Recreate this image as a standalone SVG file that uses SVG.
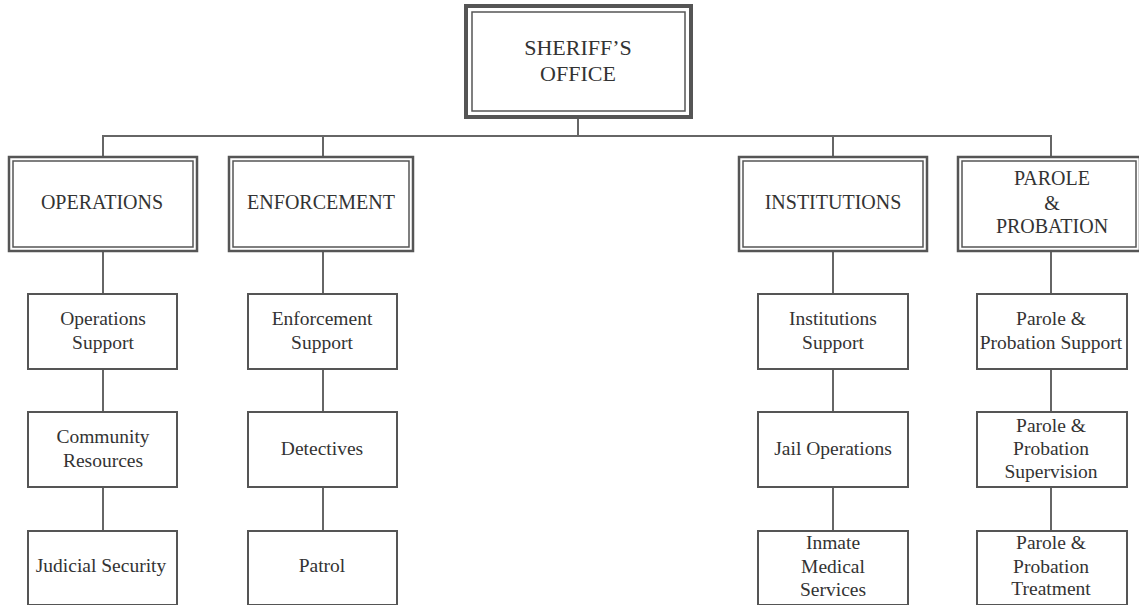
<svg xmlns="http://www.w3.org/2000/svg" width="1139" height="605" viewBox="0 0 1139 605">
<style>
.bg{fill:#fff}
.out{fill:#fff;stroke:#555;stroke-width:2.5}
.in{fill:none;stroke:#555;stroke-width:1.5}
.sub{fill:#fff;stroke:#555;stroke-width:2}
.conn line{stroke:#666;stroke-width:2}
text{font-family:"Liberation Serif","Times New Roman",serif;fill:#333;text-anchor:middle}
.t1{font-size:22px}
.t2{font-size:20px}
.t3{font-size:19.5px}
</style>
<rect class="bg" x="0" y="0" width="1139" height="605"/>
<g id="connectors" class="conn">
<line x1="578" y1="118" x2="578" y2="136"/>
<line x1="103" y1="136" x2="1051" y2="136"/>
<line x1="103" y1="135" x2="103" y2="156"/>
<line x1="323" y1="135" x2="323" y2="156"/>
<line x1="833" y1="135" x2="833" y2="156"/>
<line x1="1051" y1="135" x2="1051" y2="156"/>
<line x1="103" y1="251" x2="103" y2="294"/>
<line x1="103" y1="369" x2="103" y2="412"/>
<line x1="103" y1="487" x2="103" y2="531"/>
<line x1="323" y1="251" x2="323" y2="294"/>
<line x1="323" y1="369" x2="323" y2="412"/>
<line x1="323" y1="487" x2="323" y2="531"/>
<line x1="833" y1="251" x2="833" y2="294"/>
<line x1="833" y1="369" x2="833" y2="412"/>
<line x1="833" y1="487" x2="833" y2="531"/>
<line x1="1051" y1="251" x2="1051" y2="294"/>
<line x1="1051" y1="369" x2="1051" y2="412"/>
<line x1="1051" y1="487" x2="1051" y2="531"/>
</g>
<g id="sheriff">
<rect x="466" y="6" width="225" height="111" fill="#fff" stroke="#555" stroke-width="4"/>
<rect x="472" y="12" width="213" height="99" class="in" stroke-width="2"/>
<text class="t1" x="578" y="55">SHERIFF’S</text>
<text class="t1" x="578" y="81">OFFICE</text>
</g>
<g id="operations">
<rect class="out" x="9" y="157" width="188" height="94"/>
<rect class="in" x="13" y="161" width="180" height="86"/>
<text class="t2" x="102" y="209">OPERATIONS</text>
</g>
<g id="enforcement">
<rect class="out" x="229" y="157" width="184" height="94"/>
<rect class="in" x="233" y="161" width="176" height="86"/>
<text class="t2" x="321" y="209">ENFORCEMENT</text>
</g>
<g id="institutions">
<rect class="out" x="739" y="157" width="188" height="94"/>
<rect class="in" x="743" y="161" width="180" height="86"/>
<text class="t2" x="833" y="209">INSTITUTIONS</text>
</g>
<g id="parole">
<rect class="out" x="958" y="157" width="182" height="94"/>
<rect class="in" x="962" y="161" width="174" height="86"/>
<text class="t2" x="1052" y="185">PAROLE</text>
<text class="t2" x="1052" y="210">&amp;</text>
<text class="t2" x="1052" y="233">PROBATION</text>
</g>
<g id="ops-support">
<rect class="sub" x="28" y="294" width="149" height="75"/>
<text class="t3" x="103" y="325">Operations</text>
<text class="t3" x="103" y="349">Support</text>
</g>
<g id="community">
<rect class="sub" x="28" y="412" width="149" height="75"/>
<text class="t3" x="103" y="443">Community</text>
<text class="t3" x="103" y="467">Resources</text>
</g>
<g id="judicial">
<rect class="sub" x="28" y="531" width="149" height="74"/>
<text class="t3" x="101" y="572">Judicial Security</text>
</g>
<g id="enf-support">
<rect class="sub" x="248" y="294" width="149" height="75"/>
<text class="t3" x="322" y="325">Enforcement</text>
<text class="t3" x="322" y="349">Support</text>
</g>
<g id="detectives">
<rect class="sub" x="248" y="412" width="149" height="75"/>
<text class="t3" x="322" y="455">Detectives</text>
</g>
<g id="patrol">
<rect class="sub" x="248" y="531" width="149" height="74"/>
<text class="t3" x="322" y="572">Patrol</text>
</g>
<g id="inst-support">
<rect class="sub" x="758" y="294" width="150" height="75"/>
<text class="t3" x="833" y="325">Institutions</text>
<text class="t3" x="833" y="349">Support</text>
</g>
<g id="jail">
<rect class="sub" x="758" y="412" width="150" height="75"/>
<text class="t3" x="833" y="455">Jail Operations</text>
</g>
<g id="medical">
<rect class="sub" x="758" y="531" width="150" height="74"/>
<text class="t3" x="833" y="549">Inmate</text>
<text class="t3" x="833" y="573">Medical</text>
<text class="t3" x="833" y="596">Services</text>
</g>
<g id="pp-support">
<rect class="sub" x="977" y="294" width="150" height="75"/>
<text class="t3" x="1051" y="325">Parole &amp;</text>
<text class="t3" x="1051" y="349">Probation Support</text>
</g>
<g id="pp-supervision">
<rect class="sub" x="977" y="412" width="150" height="75"/>
<text class="t3" x="1051" y="432">Parole &amp;</text>
<text class="t3" x="1051" y="455">Probation</text>
<text class="t3" x="1051" y="478">Supervision</text>
</g>
<g id="pp-treatment">
<rect class="sub" x="977" y="531" width="150" height="74"/>
<text class="t3" x="1051" y="549">Parole &amp;</text>
<text class="t3" x="1051" y="573">Probation</text>
<text class="t3" x="1051" y="595">Treatment</text>
</g>
</svg>
